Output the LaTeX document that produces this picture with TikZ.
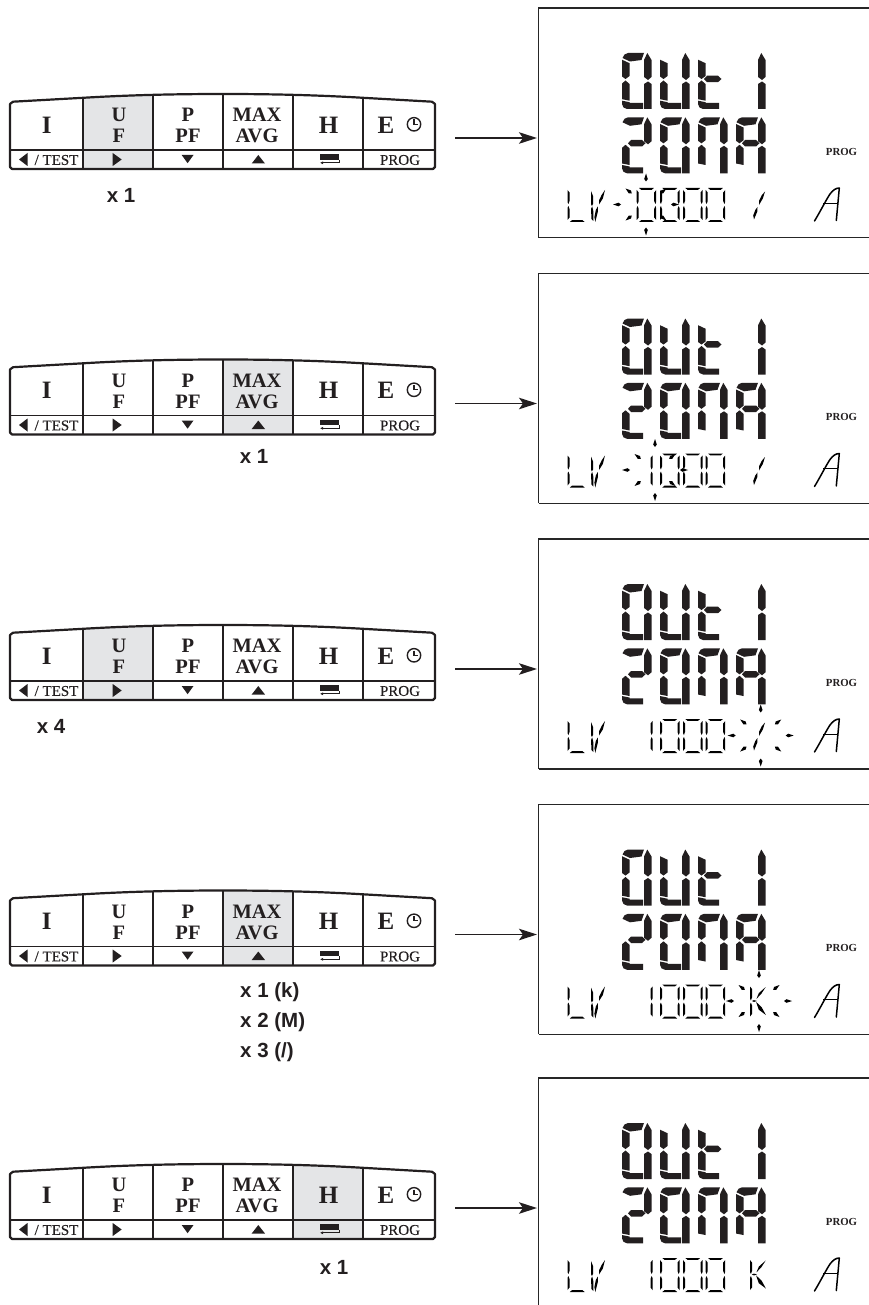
\documentclass[tikz,border=0pt]{standalone}
\usepackage{fontspec}
\setmainfont{Liberation Serif}
\newfontfamily\lblfont{Liberation Sans}
\newfontfamily\subfont[FakeBold=0.3]{Liberation Serif}
\usetikzlibrary{arrows.meta}
\definecolor{keygray}{HTML}{E4E5E7}
\definecolor{inkk}{HTML}{231F20}
\tikzset{
  keyline/.style={line width=1.8pt,draw=inkk},
  keyouter/.style={line width=2.2pt,draw=inkk,line join=round},
  keytxt/.style={inner sep=0pt,align=center,text=inkk,font=\fontsize{20.5}{21}\selectfont\bfseries},
  keybig/.style={inner sep=0pt,text=inkk,font=\fontsize{25}{25}\selectfont\bfseries},
  keysub/.style={inner sep=0pt,text=inkk,font=\fontsize{15}{15}\selectfont\subfont},
  lbl/.style={inner sep=0pt,text=inkk,font=\fontsize{20.5}{20.5}\selectfont\lblfont\bfseries},
  panelline/.style={line width=1.2pt,draw=black!85},
  panelbox/.style={inner sep=0pt,minimum width=330.5pt,draw=none},
  progtxt/.style={inner sep=0pt,text=inkk,font=\fontsize{10.8}{10.8}\selectfont\bfseries},
  arrowline/.style={line width=1.7pt,draw=inkk,-{Stealth[length=18pt,width=11.5pt,inset=4pt]},shorten >=1.5pt},
}
% big segments
\newcommand{\BGa}{\fill (0.5,5)--(2.5,1.5)--(6,0)--(22,0)--(19.5,7)--(8,8.5)--cycle;}
\newcommand{\BGb}{\fill (25.3,0)--(29.5,7)--(29.5,24)--(26,27)--(22,24)--(22,7)--cycle;}
\newcommand{\BGc}{\fill (26,28.5)--(29.5,31)--(29.5,56)--(22,56)--(22,31)--cycle;}
\newcommand{\BGd}{\fill (0,47.7)--(7.5,49.2)--(7.5,50)--(21,50)--(21,56)--(5,56)--(1.5,54.5)--(0,51)--cycle;}
\newcommand{\BGe}{\fill (3.5,27.5)--(7.5,31)--(7.5,47.7)--(0,46.2)--(0,30.5)--cycle;}
\newcommand{\BGf}{\fill (0,6.7)--(7.5,10.2)--(7.5,23)--(3.5,26)--(0,23.5)--cycle;}
\newcommand{\BGg}{\fill (6,26)--(9,22.7)--(20,22.7)--(23.5,26)--(20,29.2)--(9,29.2)--cycle;}
\newcommand{\bigdig}[3]{\begin{scope}[shift={(#1,#2)},fill=inkk]#3\end{scope}}
% small segments
\newcommand{\SMa}{\fill (2.3,0)--(17.2,0)--(15,1.8)--(4.5,1.8)--cycle;}
\newcommand{\SMd}{\fill (2.3,34)--(4.5,32.2)--(15,32.2)--(17.2,34)--cycle;}
\newcommand{\SMf}{\fill (0,2)--(2,4.5)--(2,13)--(0.9,16)--(0,14)--cycle;}
\newcommand{\SMe}{\fill (0,20)--(0.9,18)--(2,21)--(2,29.5)--(0,32)--cycle;}
\newcommand{\SMb}{\fill (19.5,2)--(17.5,4.5)--(17.5,13)--(18.6,16)--(19.5,14)--cycle;}
\newcommand{\SMc}{\fill (19.5,20)--(18.6,18)--(17.5,21)--(17.5,29.5)--(19.5,32)--cycle;}
\newcommand{\smdig}[2]{\begin{scope}[shift={(#1,188)},fill=black]#2\end{scope}}
\newcommand{\zerodig}[1]{\smdig{#1}{\SMa\SMb\SMc\SMd\SMe\SMf}}
% burst of rays round a blinking character
\newcommand{\rayburst}[1]{%
  \foreach \a/\r in {0/25,180/25,90/23,270/23,38/18,142/18,218/18,322/18}{
    \begin{scope}[shift={(#1,204.5)},rotate=\a]
      \fill[black] (\r,0)--(\r+2.5,1.8)--(\r+8,0)--(\r+2.5,-1.8)--cycle;
    \end{scope}}}
% the fixed small characters
\newcommand{\lvtext}{%
  \smdig{567.5}{\SMf\SMe\SMd}
  \fill[black] (591,191)--(593,196)--(593,204)--(591.9,206)--(591,204)--cycle;
  \fill[black] (591,209)--(592.2,206.5)--(593.3,211)--(593.3,221)--(591.5,219)--cycle;
  \fill[black] (605,190)--(602.8,198.5)--(599,204.5)--(599.2,200)--(601.6,195)--cycle;
  \fill[black] (597.8,206.5)--(597.8,212)--(595.3,222)--(594.4,217)--(595.8,210)--cycle;
  \draw[line width=1.5pt,black,line join=round,line cap=round] (814.5,221) .. controls (820,212) and (826,200) .. (830,194) .. controls (833,190) and (836,188) .. (839.3,188) -- (836.3,220.5);
  \draw[line width=1.2pt,black] (823,203.3) -- (837.4,203.3);
}
\newcommand{\slashchar}{%
  \fill[black] (765,191.5)--(762.8,198.5)--(759,205)--(759.2,200.5)--(761.6,195.5)--cycle;
  \fill[black] (757.5,207)--(757.3,211.5)--(754,219.5)--(753.2,215.5)--(755.3,210)--cycle;
}
\newcommand{\kchar}{%
  \smdig{750}{\SMf\SMe}
  \fill[black] (751.8,204.5)--(754,203.6)--(757,204.5)--(754,205.4)--cycle;
  \fill[black] (765.7,190.5)--(761.3,197.3)--(756.5,202.3)--(758.8,196.6)--cycle;
  \fill[black] (756,205.3)--(761.7,210.8)--(765.9,218.5)--(758.8,213.2)--cycle;
}
\newcommand{\onezero}{%
  \smdig{633}{\SMb\SMc}\zerodig{660}\zerodig{683}\zerodig{705.7}}
% a whole row: #1 id, #2 shift, #3 gray left, #4 gray right, #5 panel height
\newcommand{\keyrow}[5]{%
 \begin{scope}[shift={(0,#2)}]
  \begin{scope}
   \clip (10,104)--(13,101.7)--(83,97.8) .. controls (130,95) and (176,94) .. (223,94) .. controls (270,94) and (316,95) .. (363,97.8)--(432,101.7)--(435,104)--(435,167)--(433,169)--(12,169)--(10,167)--cycle;
   \fill[keygray] (#3,90) rectangle (#4,172);
  \end{scope}
  \draw[keyouter] (10,104)--(13,101.7)--(83,97.8) .. controls (130,95) and (176,94) .. (223,94) .. controls (270,94) and (316,95) .. (363,97.8)--(432,101.7)--(435,104)--(435,167)--(433,169)--(12,169)--(10,167)--cycle;
  \draw[keyline] (83,97.8)--(83,169) (153,95.3)--(153,169) (223,94)--(223,169) (293,95.3)--(293,169) (363,97.8)--(363,169);
  \draw[line width=1.3pt,draw=inkk] (10,150)--(435,150);
  \node[keybig] (k#1I) at (46.7,125) {I};
  \node[keytxt] (k#1U) at (119,125.5) {U\\F};
  \node[keytxt] (k#1P) at (188,125.5) {P\\PF};
  \node[keytxt] (k#1M) at (257,125.5) {MAX\\AVG};
  \node[keybig] (k#1H) at (328.7,125) {H};
  \node[keybig] (k#1E) at (386,125) {E};
  \draw[line width=1.4pt,inkk] (414,124.3) circle (6.7);
  \draw[line width=1.1pt,inkk] (414,119.5)--(414,124.3)--(418.3,124.3);
  \fill[inkk] (27.5,153)--(27.5,166)--(19,159.5)--cycle;
  \node[keysub] (k#1T) at (56.5,160) {/ TEST};
  \fill[inkk] (112.7,153)--(112.7,166)--(121.7,159.5)--cycle;
  \fill[inkk] (181.7,155)--(193.5,155)--(187.6,163.2)--cycle;
  \fill[inkk] (251.7,163.5)--(265,163.5)--(258.3,155)--cycle;
  \fill[inkk] (320,154)rectangle(339.3,159.6);
  \draw[line width=0.7pt,inkk,-{Latex[length=3pt,width=3pt]}] (339,159.6)--(339,162.8)--(320,162.8);
  \node[keysub] (k#1R) at (400,160) {PROG};
  \node[panelbox,minimum height=#5pt,anchor=north west] (p#1) at (538.5,8) {};
  \draw[panelline] (p#1.north east)--(p#1.north west)--(p#1.south west);
  \coordinate (a#1) at (455,138);
  \draw[arrowline] (a#1)--(p#1.west |- a#1);
  \bigdig{622}{53}{\BGa\BGb\BGc\BGd\BGe\BGf}
  \bigdig{660}{53}{\BGb\BGc\BGd\BGe\BGf}
  \bigdig{698}{53}{\BGf\BGg\BGe\BGd}
  \bigdig{736}{53}{\BGb\BGc}
  \bigdig{622}{117.3}{\BGa\BGb\BGg\BGe\BGd}
  \bigdig{660}{117.3}{\BGa\BGb\BGc\BGd\BGe\BGf}
  \bigdig{698}{117.3}{\BGa\BGb\BGc\BGe\BGf}
  \bigdig{736}{117.3}{\BGa\BGb\BGc\BGe\BGf\BGg}
  \node[progtxt] (g#1) at (841.5,151.7) {PROG};
  \lvtext
 \end{scope}}
\begin{document}
\begin{tikzpicture}[x=1pt,y=-1pt]
\useasboundingbox (0,0) rectangle (869,1305);
\keyrow{1}{0}{83}{153}{229.5}
\keyrow{2}{265.5}{223}{293}{229.5}
\keyrow{3}{531}{83}{153}{229.5}
\keyrow{4}{796.5}{223}{293}{229.5}
\keyrow{5}{1070}{293}{363}{227}
\draw[panelline] (p1.south west)--(p1.south east);
\draw[panelline] (p2.south west)--(p2.south east);
\draw[panelline] (p3.south west)--(p3.south east);
\draw[panelline] (p4.south west)--(p4.south east);
% row 1 display
\begin{scope}
  \zerodig{636.7}\zerodig{660}\zerodig{683}\zerodig{705.7}\slashchar\rayburst{646}
\end{scope}
\begin{scope}[shift={(0,265.5)}]
  \onezero\slashchar\rayburst{655}
\end{scope}
\begin{scope}[shift={(0,531)}]
  \onezero\slashchar\rayburst{760.7}
\end{scope}
\begin{scope}[shift={(0,796.5)}]
  \onezero\kchar\rayburst{759}
\end{scope}
\begin{scope}[shift={(0,1070)}]
  \onezero\kchar
\end{scope}
\node[lbl] (c1) at (121,195) {x 1};
\node[lbl] (c2) at (254,456) {x 1};
\node[lbl] (c3) at (51,726) {x 4};
\node[lbl,anchor=west] (c4) at (240,992) {x 1 (k)};
\node[lbl,anchor=west] (c5) at (240,1022) {x 2 (M)};
\node[lbl,anchor=west] (c6) at (240,1052) {x 3 (/)};
\node[lbl] (c7) at (334,1267) {x 1};
\end{tikzpicture}
\end{document}
